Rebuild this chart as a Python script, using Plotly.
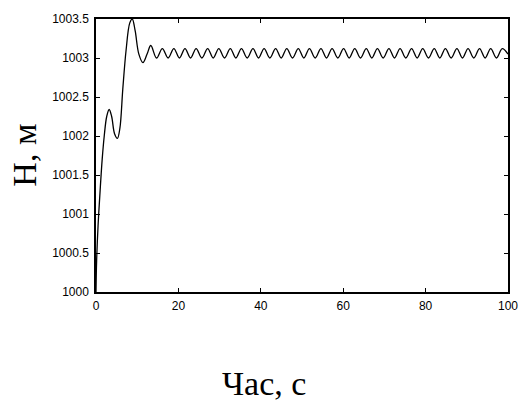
import plotly.graph_objects as go

# Time points (s): start-up transient, then extrema of the oscillation
t_values = [0.0, 0.15, 0.5, 1.0, 1.5, 2.0, 2.6, 3.2, 3.8, 4.5, 5.2, 5.8, 6.5, 7.3, 8.2, 8.8,
            9.5, 10.4, 11.4, 12.4, 13.3,
            14.7, 16.1, 17.5, 18.9, 20.25, 21.6, 22.95, 24.3, 25.7, 27.1, 28.45, 29.8,
            31.2, 32.6, 33.95, 35.3, 36.7, 38.1, 39.45, 40.8, 42.2, 43.6, 44.95, 46.3,
            47.7, 49.1, 50.45, 51.8, 53.2, 54.6, 55.95, 57.3, 58.7, 60.1, 61.45, 62.8,
            64.2, 65.6, 66.95, 68.3, 69.7, 71.1, 72.45, 73.8, 75.2, 76.6, 77.95, 79.3,
            80.7, 82.1, 83.45, 84.8, 86.2, 87.6, 88.95, 90.3, 91.7, 93.1, 94.45, 95.8,
            97.2, 98.6, 100.0]
h_values = [1000.0, 1000.4, 1000.85, 1001.3, 1001.7, 1002.0, 1002.25, 1002.34, 1002.25, 1002.03,
            1001.97, 1002.1, 1002.6, 1003.1, 1003.45, 1003.5,
            1003.35, 1003.05, 1002.94, 1003.05, 1003.16,
            1003.0, 1003.12, 1003.0, 1003.12, 1003.0, 1003.12, 1003.0, 1003.12, 1003.0,
            1003.12, 1003.0, 1003.12, 1003.0, 1003.12, 1003.0, 1003.12, 1003.0, 1003.12,
            1003.0, 1003.12, 1003.0, 1003.12, 1003.0, 1003.12, 1003.0, 1003.12, 1003.0,
            1003.12, 1003.0, 1003.12, 1003.0, 1003.12, 1003.0, 1003.12, 1003.0, 1003.12,
            1003.0, 1003.12, 1003.0, 1003.12, 1003.0, 1003.12, 1003.0, 1003.12, 1003.0,
            1003.12, 1003.0, 1003.12, 1003.0, 1003.12, 1003.0, 1003.12, 1003.0, 1003.12,
            1003.0, 1003.12, 1003.0, 1003.12, 1003.0, 1003.12, 1003.0, 1003.12, 1003.05]

x_ticks = [0, 20, 40, 60, 80, 100]
y_ticks = [1000, 1000.5, 1001, 1001.5, 1002, 1002.5, 1003, 1003.5]
y_tick_text = ["1000", "1000.5", "1001", "1001.5", "1002", "1002.5", "1003", "1003.5"]

fig = go.Figure()
fig.add_trace(go.Scatter(x=t_values, y=h_values, mode="lines",
                         line=dict(color="black", width=1.3, shape="spline", smoothing=1.0),
                         showlegend=False, hoverinfo="skip"))

axis_common = dict(showline=True, linecolor="black", linewidth=1.5, mirror="ticks",
                   ticks="inside", ticklen=4, tickcolor="black", showgrid=False,
                   zeroline=False, tickfont=dict(family="Liberation Sans, Arial", size=12, color="black"))

fig.update_layout(
    width=530, height=414,
    margin=dict(l=96, r=12, t=15, b=122),
    paper_bgcolor="white", plot_bgcolor="white",
    xaxis=dict(range=[0, 100], tickvals=x_ticks, ticklabelstandoff=2, **axis_common),
    yaxis=dict(range=[1000, 1003.5], tickvals=y_ticks, ticktext=y_tick_text, ticklabelstandoff=3, **axis_common),
    annotations=[
        dict(text="Час, с", xref="paper", yref="paper", x=0.408, y=-0.336,
             showarrow=False, xanchor="center", yanchor="middle",
             font=dict(family="Liberation Serif, Times New Roman", size=34, color="black")),
        dict(text="Н, м", xref="paper", yref="paper", x=-0.173, y=0.502, textangle=-90,
             showarrow=False, xanchor="center", yanchor="middle",
             font=dict(family="Liberation Serif, Times New Roman", size=34, color="black")),
    ],
)

fig.write_html("out.html")
